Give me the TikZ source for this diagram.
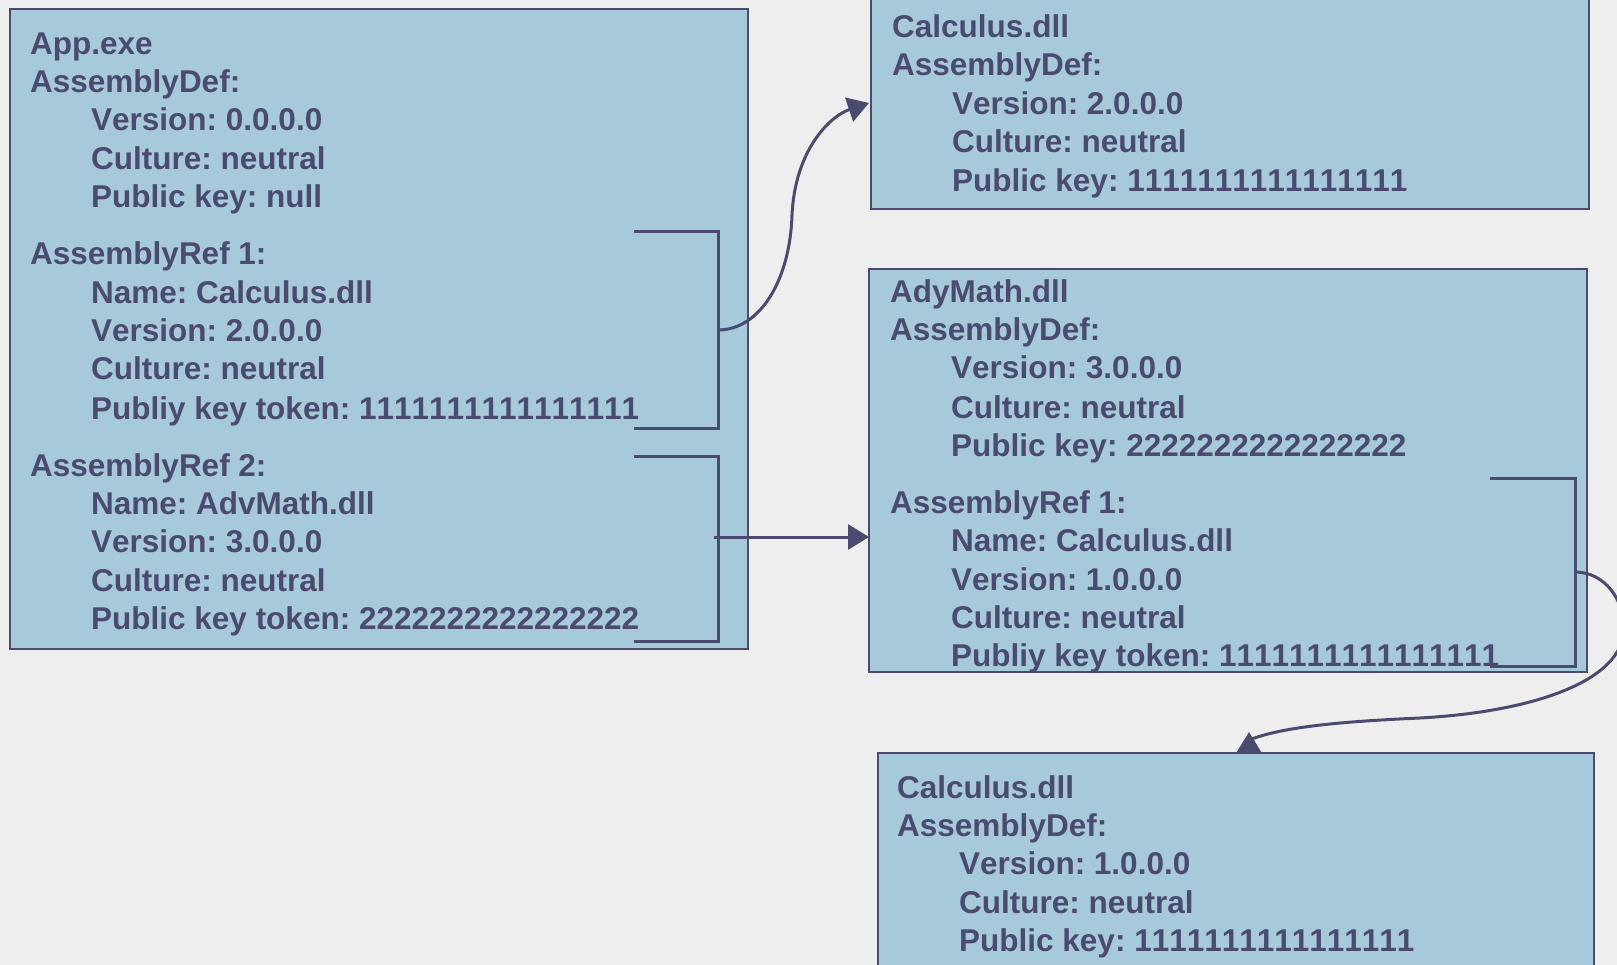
\documentclass[tikz,border=0pt]{standalone}
\usepackage{fontspec}
\setmainfont{Liberation Sans}[Kerning=Off]
\usetikzlibrary{arrows.meta}
\definecolor{ink}{HTML}{4B4B70}
\definecolor{boxfill}{HTML}{A6CADA}
\definecolor{paper}{HTML}{EEEEEE}
\frenchspacing
\begin{document}
\begin{tikzpicture}[x=1pt,y=-1pt,
  asmbox/.style={draw=ink,line width=1.6pt,fill=boxfill,inner sep=0pt,
    outer sep=0pt,anchor=north west},
  txt/.style={anchor=base west,inner sep=0pt,text=ink,
    font=\fontsize{31.5}{38}\selectfont\bfseries},
  brk/.style={draw=ink,line width=3pt},
  conn/.style={draw=ink,line width=3pt},
  tip/.style={-{Triangle[length=21pt,width=25pt]}}]
\useasboundingbox (0,0) rectangle (1617,965);
\clip (0,0) rectangle (1617,965);
\fill[paper] (0,0) rectangle (1617,965);

% assembly boxes
\node[asmbox,minimum width=738pt,minimum height=640pt] (app) at (10,9) {};
\node[asmbox,minimum width=718pt,minimum height=214pt] (calc2) at (871,-5) {};
\node[asmbox,minimum width=718pt,minimum height=403pt] (adv) at (869,269) {};
\node[asmbox,minimum width=716pt,minimum height=230pt] (calc1) at (878,753) {};

% App.exe
\foreach \x/\y/\t in {30/55/App.exe, 30/93/AssemblyDef:, 91/131/Version: 0.0.0.0,
    91/170/Culture: neutral, 91/208/Public key: null,
    30/265/AssemblyRef 1:, 91/304/Name: Calculus.dll, 91/342/Version: 2.0.0.0,
    91/380/Culture: neutral, 91/419/Publiy key token: 1111111111111111,
    30/476/AssemblyRef 2:, 91/514/Name: AdvMath.dll, 91/552/Version: 3.0.0.0,
    91/591/Culture: neutral, 91/629/Public key token: 2222222222222222}
  \node[txt] (app-\y) at (\x,\y) {\t};

% Calculus.dll 2.0.0.0
\foreach \x/\y/\t in {892/38/Calculus.dll, 892/76/AssemblyDef:,
    952/115/Version: 2.0.0.0, 952/153/Culture: neutral,
    952/192/Public key: 1111111111111111}
  \node[txt] (calc2-\y) at (\x,\y) {\t};

% AdyMath.dll
\foreach \x/\y/\t in {890/303/AdyMath.dll, 890/341/AssemblyDef:,
    951/379/Version: 3.0.0.0, 951/418/Culture: neutral,
    951/456/Public key: 2222222222222222,
    890/513/AssemblyRef 1:, 951/551/Name: Calculus.dll, 951/590/Version: 1.0.0.0,
    951/628/Culture: neutral, 951/666/Publiy key token: 1111111111111111}
  \node[txt] (adv-\y) at (\x,\y) {\t};

% Calculus.dll 1.0.0.0
\foreach \x/\y/\t in {897/798/Calculus.dll, 897/836/AssemblyDef:,
    959/874/Version: 1.0.0.0, 959/913/Culture: neutral,
    959/951/Public key: 1111111111111111}
  \node[txt] (calc1-\y) at (\x,\y) {\t};

% brackets grouping the references
\draw[brk] (634,232) -- (718,232) -- (718,428) -- (634,428);
\draw[brk] (634,456) -- (718,456) -- (718,641) -- (634,641);
\draw[brk] (1490,478) -- (1575,478) -- (1575,666) -- (1490,666);

% connector ends
\coordinate (ref1) at (718,330);
\coordinate (ref2) at (714,537);
\coordinate (ref3) at (1575,572);
\coordinate (calc2in) at (869,103);
\coordinate (calc1in) at (1249,732);

% references resolved to assemblies
\draw[conn,tip] (ref1) .. controls (760,330) and (790,280) .. (792,215)
  .. controls (795,150) and (830,116) .. (calc2in);
\draw[conn,tip] (ref2) -- (ref2 -| adv.west);
\draw[conn,tip] (ref3) .. controls (1605,572) and (1624,600) .. (1624,628)
  .. controls (1624,682) and (1530,712) .. (1420,718)
  .. controls (1330,722) and (1280,728) .. (1249,740) -- (calc1in);
\end{tikzpicture}
\end{document}
